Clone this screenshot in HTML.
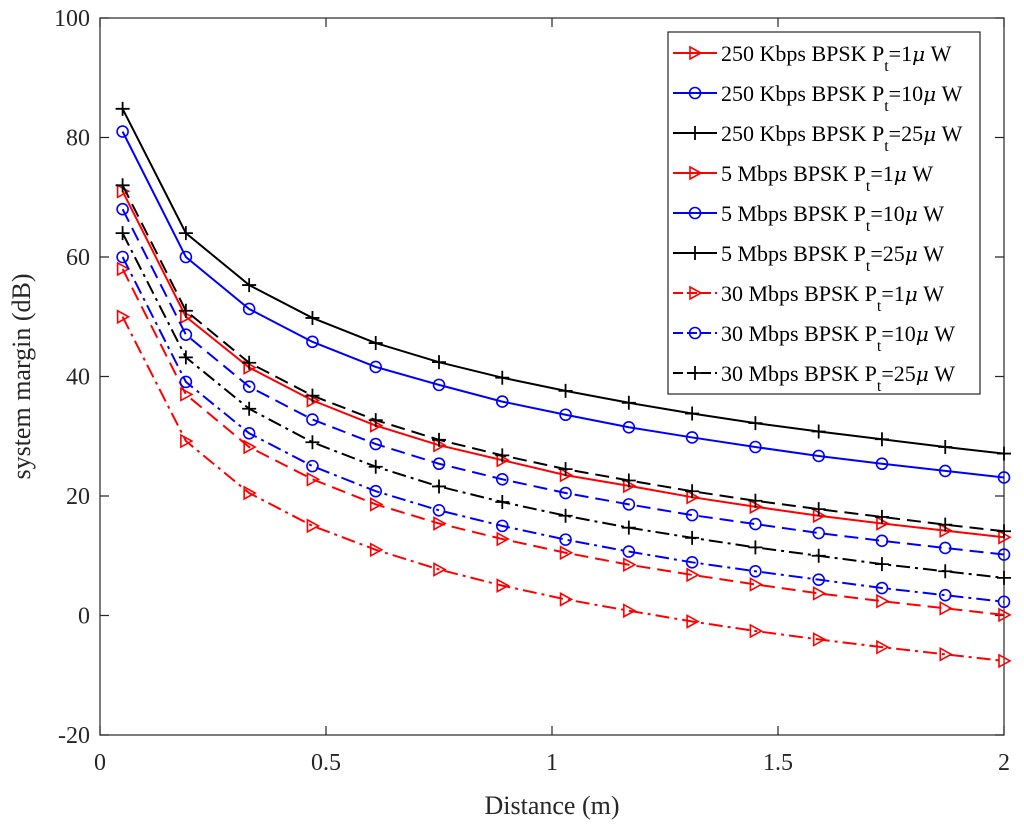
<!DOCTYPE html>
<html><head><meta charset="utf-8"><style>
body{margin:0;background:#fff}
svg{display:block;font-family:"Liberation Serif",serif}
</style></head><body>
<svg id="chart" width="1024" height="834" xmlns="http://www.w3.org/2000/svg">
<g id="plot"></g>
</svg>
<script>
const xs=[0.05,0.19,0.33,0.47,0.61,0.75,0.89,1.03,1.17,1.31,1.45,1.59,1.73,1.87,2.0];
const s250k1=[71,50,41.5,36,31.8,28.5,26,23.5,21.7,19.8,18.2,16.7,15.4,14.2,13.1];
const s250k10=[81,60,51.3,45.8,41.6,38.6,35.8,33.6,31.5,29.8,28.2,26.7,25.4,24.2,23.1];
const s250k25=[84.8,64,55.3,49.8,45.6,42.4,39.8,37.6,35.6,33.8,32.2,30.8,29.5,28.2,27.1];
const s5m1=[58,37,28.2,22.8,18.6,15.4,12.8,10.5,8.5,6.8,5.2,3.7,2.4,1.2,0.1];
const s5m10=[68,47,38.3,32.8,28.7,25.4,22.8,20.5,18.6,16.8,15.3,13.8,12.5,11.3,10.2];
const s5m25=[72,51,42.3,36.8,32.7,29.4,26.8,24.5,22.6,20.8,19.2,17.8,16.5,15.2,14.1];
const s30m1=[50,29.2,20.5,15,11,7.7,5,2.7,0.8,-1,-2.6,-4,-5.3,-6.5,-7.6];
const s30m10=[60,39.1,30.5,25,20.8,17.6,15,12.7,10.7,8.9,7.4,6,4.6,3.4,2.3];
const s30m25=[64,43.2,34.6,29,24.9,21.6,19,16.7,14.7,13,11.4,10,8.6,7.4,6.3];
const xTicks=[0,0.5,1,1.5,2];
const xTickLabels=["0","0.5","1","1.5","2"];
const yTicks=[-20,0,20,40,60,80,100];
const legendLabels=["250 Kbps BPSK P","250 Kbps BPSK P","250 Kbps BPSK P","5 Mbps BPSK P","5 Mbps BPSK P","5 Mbps BPSK P","30 Mbps BPSK P","30 Mbps BPSK P","30 Mbps BPSK P"];
const legendPower=["1","10","25","1","10","25","1","10","25"];

const L=100,R=1004,T=18,B=735;
const X=v=>L+(v-0)/2*(R-L);
const Y=v=>B-(v+20)/120*(B-T);
const NS="http://www.w3.org/2000/svg";
const g=document.getElementById('plot');
function mk(t,a,p){const e=document.createElementNS(NS,t);for(const k in a)e.setAttribute(k,a[k]);(p||g).appendChild(e);return e;}

const series=[
{d:s250k1,c:"#ff0000",m:"tri",dash:"",n:"series-250k-1uw"},
{d:s250k10,c:"#0000ff",m:"circ",dash:"",n:"series-250k-10uw"},
{d:s250k25,c:"#000000",m:"plus",dash:"",n:"series-250k-25uw"},
{d:s5m1,c:"#ff0000",m:"tri",dash:"14,7",n:"series-5m-1uw"},
{d:s5m10,c:"#0000ff",m:"circ",dash:"14,7",n:"series-5m-10uw"},
{d:s5m25,c:"#000000",m:"plus",dash:"14,7",n:"series-5m-25uw"},
{d:s30m1,c:"#ff0000",m:"tri",dash:"14,5,3,5",n:"series-30m-1uw"},
{d:s30m10,c:"#0000ff",m:"circ",dash:"14,5,3,5",n:"series-30m-10uw"},
{d:s30m25,c:"#000000",m:"plus",dash:"14,5,3,5",n:"series-30m-25uw"}];

function marker(type,x,y,c,parent){
  let e;
  if(type==="tri"){e=mk("polygon",{points:`${x-5},${y-6} ${x+6},${y} ${x-5},${y+6}`,fill:"none",stroke:c,"stroke-width":1.6},parent);}
  else if(type==="circ"){e=mk("circle",{cx:x,cy:y,r:5.5,fill:"none",stroke:c,"stroke-width":1.6},parent);}
  else {e=mk("path",{d:`M${x-7},${y}H${x+7}M${x},${y-7}V${y+7}`,stroke:c,"stroke-width":1.8},parent);}
  
  
}

// axes box
const box=mk("rect",{x:L,y:T,width:R-L,height:B-T,fill:"none",stroke:"#262626","stroke-width":1.2});



xTicks.forEach((t,i)=>{
  const x=X(t);
  mk("path",{d:`M${x},${B}V${B-9}M${x},${T}V${T+9}`,stroke:"#262626","stroke-width":1.2});
  const e=mk("text",{x:x,y:B+35,"text-anchor":"middle","font-size":24,fill:"#262626"});
  e.textContent=xTickLabels[i];
  
  
});
yTicks.forEach(t=>{
  const y=Y(t);
  mk("path",{d:`M${L},${y}H${L+9}M${R},${y}H${R-9}`,stroke:"#262626","stroke-width":1.2});
  const e=mk("text",{x:L-10,y:y+8,"text-anchor":"end","font-size":24,fill:"#262626"});
  e.textContent=String(t);
  
  
});

series.forEach(s=>{
  const sg=mk("g",{});
  
  
  const pts=s.d.map((v,i)=>X(xs[i])+","+Y(v)).join(" ");
  mk("polyline",{points:pts,fill:"none",stroke:s.c,"stroke-width":2,"stroke-dasharray":s.dash},sg);
  s.d.forEach((v,i)=>marker(s.m,X(xs[i]),Y(v),s.c,sg));
});

// axis titles
const xt=mk("text",{x:(L+R)/2,y:814,"text-anchor":"middle","font-size":26,fill:"#262626"});
xt.textContent="Distance (m)";


const yt=mk("text",{x:0,y:0,"text-anchor":"middle","font-size":26,fill:"#262626",transform:`translate(30,${(T+B)/2}) rotate(-90)`});
yt.textContent="system margin (dB)";



// legend
const lg=mk("g",{});


mk("rect",{x:668,y:32,width:312,height:362,fill:"#fff",stroke:"#262626","stroke-width":1.2},lg);
series.forEach((s,i)=>{
  const y=53+i*40;
  const eg=mk("g",{},lg);
  
  
  mk("line",{x1:673,y1:y,x2:717,y2:y,stroke:s.c,"stroke-width":2,"stroke-dasharray":i>=6?"10,4":""},eg);
  marker(s.m,695,y,s.c,eg);
  const t=mk("text",{x:721,y:y+8,"font-size":22,fill:"#000"},eg);
  t.innerHTML=legendLabels[i]+'<tspan dy="10" font-size="16">t</tspan><tspan dy="-10">='+legendPower[i]+'</tspan><tspan font-style="italic" font-family="DejaVu Serif, serif" font-size="20">μ</tspan><tspan> W</tspan>';
});
</script>
</body></html>
